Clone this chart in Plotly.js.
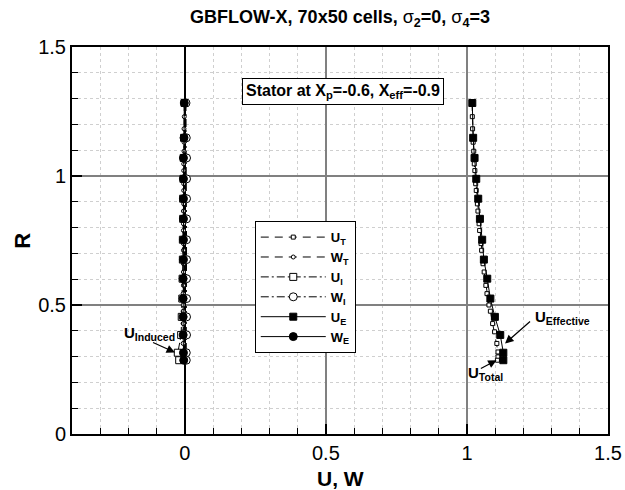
<!DOCTYPE html>
<html>
<head>
<meta charset="utf-8">
<script src="https://cdn.plot.ly/plotly-3.0.1.min.js"></script>
<style>html,body{margin:0;padding:0;background:#fff;}#chart{width:625px;height:490px;}</style>
</head>
<body>
<div id="chart"></div>
<script>
// Radial stations for effective / induced series (markers every station)
const R_E = [1.283,1.148,1.070,0.989,0.912,0.834,0.753,0.676,0.602,0.525,0.454,0.384,0.315,0.286];
const U_E = [1.019,1.022,1.027,1.033,1.040,1.046,1.054,1.060,1.072,1.083,1.099,1.118,1.129,1.129];
const W_E = [-0.002,-0.003,-0.005,-0.005,-0.005,-0.005,-0.005,-0.005,-0.006,-0.006,-0.006,-0.006,-0.005,-0.004];
const U_I = [-0.001,-0.003,-0.004,-0.005,-0.006,-0.006,-0.007,-0.007,-0.008,-0.009,-0.011,-0.013,-0.025,-0.020];
const W_I = [0.004,0.005,0.006,0.006,0.006,0.006,0.006,0.006,0.006,0.006,0.006,0.006,0.005,0.005];

// Radial stations for total series (denser)
const R_T = [1.283,1.230,1.183,1.131,1.096,1.047,1.021,0.970,0.944,0.892,0.864,0.815,0.789,0.738,0.712,0.660,0.628,0.576,0.544,0.500,0.476,0.428,0.396,0.351,0.318,0.299,0.286];
const U_T = [1.018,1.019,1.020,1.022,1.024,1.026,1.028,1.031,1.033,1.037,1.039,1.043,1.045,1.050,1.052,1.057,1.061,1.067,1.071,1.078,1.083,1.091,1.098,1.106,1.110,1.110,1.108];
const W_T = [-0.002,-0.002,-0.003,-0.003,-0.003,-0.004,-0.004,-0.004,-0.004,-0.004,-0.005,-0.005,-0.005,-0.005,-0.005,-0.005,-0.005,-0.005,-0.006,-0.006,-0.006,-0.006,-0.006,-0.006,-0.005,-0.005,-0.004];

const seriesNames = ['<b>U<sub>T</sub></b>','<b>W<sub>T</sub></b>','<b>U<sub>I</sub></b>','<b>W<sub>I</sub></b>','<b>U<sub>E</sub></b>','<b>W<sub>E</sub></b>'];
const xTickVals = [0,0.5,1,1.5];
const xTickText = ['0','0.5','1','1.5'];
const yTickVals = [0,0.5,1,1.5];
const yTickText = ['0','0.5','1','1.5'];

const titleText = '<b>GBFLOW-X, 70x50 cells, </b>σ<b><sub>2</sub>=0, </b>σ<b><sub>4</sub>=3</b>';
const boxText = '<b>Stator at X<sub>p</sub>=-0.6, X<sub>eff</sub>=-0.9</b>';
const xTitle = '<b>U, W</b>';
const yTitle = '<b>R</b>';

function tr(x, y, name, dash, symbol, fill, size, lw) {
  return {
    x: x, y: y, name: name, type: 'scatter', mode: 'lines+markers',
    line: {color: 'black', width: lw, dash: dash},
    marker: {symbol: symbol, size: size, color: fill, line: {color: 'black', width: 1}},
    cliponaxis: false
  };
}

const data = [
  tr(U_T, R_T, seriesNames[0], '8px,6px', 'square', 'white', 4, 1),
  tr(W_T, R_T, seriesNames[1], '8px,6px', 'circle', 'white', 4, 1),
  tr(U_I, R_E, seriesNames[2], '8px,3px,2px,3px', 'square', 'white', 7, 1),
  tr(W_I, R_E, seriesNames[3], '8px,3px,2px,3px', 'circle', 'white', 8, 1),
  tr(U_E, R_E, seriesNames[4], 'solid', 'square', 'black', 7, 1),
  tr(W_E, R_E, seriesNames[5], 'solid', 'circle', 'black', 8, 1)
];

const axisCommon = {
  showline: true, linecolor: 'black', linewidth: 2, mirror: true,
  ticks: 'inside', ticklen: 10, tickwidth: 1.5, tickcolor: 'black',
  showgrid: true, gridcolor: '#808080', gridwidth: 1.5,
  tickfont: {size: 20, color: 'black', family: 'Liberation Sans, Arial, sans-serif'},
  minor: {dtick: 0.1, tick0: 0, ticks: 'inside', ticklen: 6, tickwidth: 1, tickcolor: 'black',
          showgrid: true, gridcolor: '#cfcfcf', griddash: 'dot', gridwidth: 1}
};

const layout = {
  width: 625, height: 490,
  margin: {l: 72, r: 17, t: 46.5, b: 56},
  paper_bgcolor: 'white', plot_bgcolor: 'white',
  font: {family: 'Liberation Sans, Arial, sans-serif', color: 'black'},
  title: {text: titleText, font: {size: 18, color: 'black'}, x: 0.5, xref: 'paper', xanchor: 'center', y: 0.966, yanchor: 'middle'},
  xaxis: Object.assign({}, axisCommon, {
    range: [-0.4, 1.5], tickmode: 'array', tickvals: xTickVals, ticktext: xTickText,
    zeroline: true, zerolinecolor: 'black', zerolinewidth: 1.5
  }),
  yaxis: Object.assign({}, axisCommon, {
    range: [0, 1.5], tickmode: 'array', tickvals: yTickVals, ticktext: yTickText,
    zeroline: false
  }),
  shapes: [
    {type: 'line', xref: 'x', yref: 'paper', x0: 1, x1: 1, y0: 0, y1: 1,
     line: {color: 'black', width: 1.5}, layer: 'between'}
  ],
  showlegend: true,
  legend: {
    x: 0.341, y: 0.55, xanchor: 'left', yanchor: 'top',
    bgcolor: 'white', bordercolor: 'black', borderwidth: 1,
    font: {size: 13, color: 'black'}, itemwidth: 65, tracegroupgap: 0,
    traceorder: 'normal'
  },
  annotations: [
    {xref: 'paper', yref: 'paper', x: 0.5, y: -0.08, text: xTitle, showarrow: false,
     font: {size: 21, color: 'black'}, xanchor: 'center', yanchor: 'top'},
    {xref: 'paper', yref: 'paper', x: -0.093, y: 0.5, text: yTitle, showarrow: false, textangle: -90,
     font: {size: 22, color: 'black'}, xanchor: 'center', yanchor: 'middle'},
    {xref: 'paper', yref: 'paper', x: 0.506, y: 0.885, text: boxText, showarrow: false,
     font: {size: 16, color: 'black'}, bgcolor: 'white', bordercolor: 'black', borderwidth: 1, borderpad: 3,
     xanchor: 'center', yanchor: 'middle'},
    // U_Induced
    {xref: 'x', yref: 'y', x: -0.124, y: 0.39, text: '<b>U<sub>Induced</sub></b>', showarrow: false,
     font: {size: 15, color: 'black'}, xanchor: 'center', yanchor: 'middle'},
    {xref: 'x', yref: 'y', axref: 'x', ayref: 'y', x: -0.035, y: 0.316, ax: -0.118, ay: 0.357, text: '',
     showarrow: true, arrowhead: 2, arrowsize: 1.4, arrowwidth: 1.2, arrowcolor: 'black', standoff: 0},
    // U_Effective
    {xref: 'x', yref: 'y', x: 1.235, y: 0.45, text: '<b>U<sub>Effective</sub></b>', showarrow: false,
     font: {size: 15, color: 'black'}, xanchor: 'left', yanchor: 'middle'},
    {xref: 'x', yref: 'y', axref: 'x', ayref: 'y', x: 1.135, y: 0.351, ax: 1.229, ay: 0.441, text: '',
     showarrow: true, arrowhead: 2, arrowsize: 1.4, arrowwidth: 1.2, arrowcolor: 'black', standoff: 0},
    // U_Total
    {xref: 'x', yref: 'y', x: 0.996, y: 0.235, text: '<b>U<sub>Total</sub></b>', showarrow: false,
     font: {size: 15, color: 'black'}, xanchor: 'left', yanchor: 'middle'},
    {xref: 'x', yref: 'y', axref: 'x', ayref: 'y', x: 1.105, y: 0.286, ax: 1.044, ay: 0.251, text: '',
     showarrow: true, arrowhead: 2, arrowsize: 1.4, arrowwidth: 1.2, arrowcolor: 'black', standoff: 0}
  ]
};

Plotly.newPlot('chart', data, layout, {displayModeBar: false, staticPlot: true});
</script>
</body>
</html>
